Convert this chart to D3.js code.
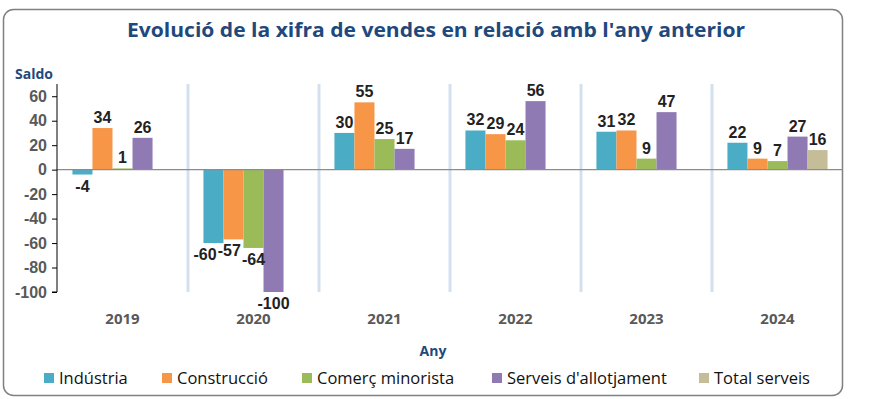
<!DOCTYPE html>
<html>
<head>
<meta charset="utf-8">
<script src="https://cdn.jsdelivr.net/npm/d3@7"></script>
<style>
  body { margin: 0; background: #fff; }
  svg { display: block; }
</style>
</head>
<body>
<div id="chart"></div>
<script>
// data
const years = ["2019", "2020", "2021", "2022", "2023", "2024"];
const seriesNames = ["Indústria", "Construcció", "Comerç minorista", "Serveis d'allotjament", "Total serveis"];
const seriesColors = ["#4bacc6", "#f79646", "#9bbb59", "#8f7ab3", "#c4bd97"];
const industria = [-4, -60, 30, 32, 31, 22];
const construccio = [34, -57, 55, 29, 32, 9];
const comerc = [1, -64, 25, 24, 9, 7];
const allotjament = [26, -100, 17, 56, 47, 27];
const totalServeis = [null, null, null, null, null, 16];
const yTicks = [60, 40, 20, 0, -20, -40, -60, -80, -100];

const allSeries = [industria, construccio, comerc, allotjament, totalServeis];

const width = 872, height = 399;
const svg = d3.select("#chart").append("svg")
  .attr("width", width)
  .attr("height", height);

// outer frame
svg.append("rect")
  .attr("x", 3.5).attr("y", 9.5)
  .attr("width", 839).attr("height", 386)
  .attr("rx", 10).attr("ry", 10)
  .attr("fill", "#fff")
  .attr("stroke", "#808080")
  .attr("stroke-width", 1.5);

// title
svg.append("text")
  .attr("x", 436).attr("y", 37)
  .attr("text-anchor", "middle")
  .attr("font-family", "Open Sans, sans-serif")
  .attr("font-weight", "bold")
  .attr("font-size", 20)
  .attr("fill", "#1f497d")
  .attr("textLength", 618)
  .attr("lengthAdjust", "spacingAndGlyphs")
  .text("Evolució de la xifra de vendes en relació amb l'any anterior");

const left = 57, right = 843;
const x = d3.scaleBand().domain(years).range([left, right]);
const inner = d3.scaleBand().domain(d3.range(seriesNames.length))
  .range([0, x.bandwidth()]).paddingOuter(0.77);
const y = d3.scaleLinear().domain([-100, 70]).range([292, 84]);

// vertical separators between years
svg.append("g").selectAll("line")
  .data(years.slice(1))
  .join("line")
  .attr("x1", d => x(d)).attr("x2", d => x(d))
  .attr("y1", y(70)).attr("y2", y(-100))
  .attr("stroke", "#d5e0ee")
  .attr("stroke-width", 3);

// bars
const rows = [];
allSeries.forEach((vals, s) => {
  vals.forEach((v, i) => {
    if (v !== null) rows.push({ year: years[i], s, v });
  });
});

svg.append("g").selectAll("rect")
  .data(rows)
  .join("rect")
  .attr("x", d => x(d.year) + inner(d.s))
  .attr("width", inner.bandwidth())
  .attr("y", d => y(Math.max(0, d.v)))
  .attr("height", d => Math.abs(y(d.v) - y(0)))
  .attr("fill", d => seriesColors[d.s]);

// value labels
const labels = svg.append("g").selectAll("text")
  .data(rows)
  .join("text")
  .attr("x", d => x(d.year) + inner(d.s) + inner.bandwidth() / 2)
  .attr("y", d => d.v >= 0 ? y(d.v) - 5 : y(d.v) + 17)
  .attr("text-anchor", "middle")
  .attr("font-family", "Liberation Sans, Arial, sans-serif")
  .attr("font-weight", "bold")
  .attr("font-size", 16)
  .attr("fill", "#222")
  .text(d => String(d.v));

// nudge neighbouring labels apart when they collide (right to left, so shifts cascade)
years.forEach(yr => {
  const grp = labels.filter(d => d.year === yr).nodes();
  for (let i = grp.length - 1; i > 0; i--) {
    const a = grp[i - 1].getBBox(), b = grp[i].getBBox();
    const vOverlap = a.y < b.y + b.height && b.y < a.y + a.height;
    const overlap = a.x + a.width + 1 - b.x;
    if (vOverlap && overlap > 0) {
      const pa = d3.select(grp[i - 1]);
      pa.attr("x", +pa.attr("x") - overlap);
    }
  }
});

// zero line
svg.append("line")
  .attr("x1", left).attr("x2", right)
  .attr("y1", y(0)).attr("y2", y(0))
  .attr("stroke", "#8c8c8c")
  .attr("stroke-width", 1.3);

// y axis
const yAxis = svg.append("g")
  .attr("transform", `translate(${left},0)`)
  .call(d3.axisLeft(y).tickValues(yTicks).tickSize(5).tickPadding(5).tickFormat(d => String(d)));
yAxis.select(".domain").attr("stroke", "#000").attr("d", `M-5,${y(-100)}H0V${y(70)}`);
yAxis.selectAll(".tick line").attr("stroke", "#000");
yAxis.selectAll(".tick text")
  .attr("font-family", "Liberation Sans, Arial, sans-serif")
  .attr("font-weight", "bold")
  .attr("font-size", 16)
  .attr("fill", "#595959");

svg.append("text")
  .attr("x", 15).attr("y", 79)
  .attr("font-family", "Open Sans, sans-serif")
  .attr("font-weight", "bold")
  .attr("font-size", 14)
  .attr("fill", "#1f497d")
  .text("Saldo");

// x labels
svg.append("g").selectAll("text")
  .data(years)
  .join("text")
  .attr("x", d => x(d) + x.bandwidth() / 2)
  .attr("y", 324)
  .attr("text-anchor", "middle")
  .attr("font-family", "Open Sans, sans-serif")
  .attr("font-weight", "bold")
  .attr("font-size", 15)
  .attr("fill", "#595959")
  .text(d => d);

svg.append("text")
  .attr("x", 433).attr("y", 356)
  .attr("text-anchor", "middle")
  .attr("font-family", "Open Sans, sans-serif")
  .attr("font-weight", "bold")
  .attr("font-size", 14)
  .attr("fill", "#1f497d")
  .text("Any");

// legend
const legendX = [44, 162, 302, 492, 699];
const legend = svg.append("g").selectAll("g")
  .data(seriesNames)
  .join("g")
  .attr("transform", (d, i) => `translate(${legendX[i]},373)`);
legend.append("rect")
  .attr("width", 10).attr("height", 10)
  .attr("fill", (d, i) => seriesColors[i]);
legend.append("text")
  .attr("x", 15).attr("y", 11)
  .attr("font-family", "Open Sans, sans-serif")
  .attr("font-size", 16.5)
  .attr("fill", "#111")
  .text(d => d);
</script>
</body>
</html>
